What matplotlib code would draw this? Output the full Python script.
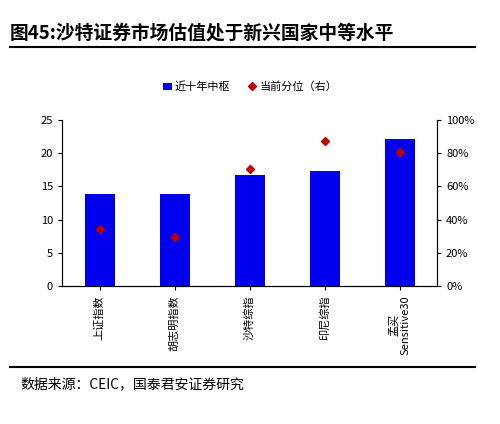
import matplotlib
matplotlib.use('Agg')
import matplotlib.pyplot as plt
import numpy as np

plt.rcParams['font.family'] = ['Noto Sans CJK SC', 'DejaVu Sans']

categories = ['上证指数', '胡志明指数', '沙特综指', '印尼综指', '孟买\nSensitive30']
center_10y = [13.9, 13.8, 16.8, 17.3, 22.2]
percentile = [0.345, 0.295, 0.705, 0.875, 0.81]

fig = plt.figure(figsize=(5, 4.24), dpi=100)
ax = fig.add_axes([0.124, 0.325, 0.75, 0.392])
x = np.arange(len(categories))
b = ax.bar(x, center_10y, width=0.4, color='#0000ee', label='近十年中枢')
ax.set_ylim(0, 25)
ax.set_xlim(-0.5, 4.5)
ax.set_yticks(range(0, 26, 5))
ax.set_xticks(x)
ax.set_xticklabels(categories, rotation=90, fontsize=8)
ax.tick_params(labelsize=8, length=3)
ax.spines['top'].set_visible(False)

ax2 = ax.twinx()
p, = ax2.plot(x, percentile, 'D', color='#c00000', markersize=4, label='当前分位（右）')
ax2.set_ylim(0, 1)
ax2.set_yticks(np.arange(0, 1.01, 0.2))
ax2.set_yticklabels([f'{int(v*100)}%' for v in np.arange(0, 1.01, 0.2)])
ax2.tick_params(labelsize=8, length=3)
ax2.spines['top'].set_visible(False)

fig.legend([b, p], ['近十年中枢', '当前分位（右）'], loc='center', bbox_to_anchor=(0.5, 0.795),
           ncol=2, frameon=False, fontsize=8, handlelength=0.8, handletextpad=0.3, columnspacing=1.5)

fig.text(0.02, 0.91, '图45:沙特证券市场估值处于新兴国家中等水平', fontsize=13.5, fontweight='bold')
fig.add_artist(plt.Line2D([0.02, 0.95], [0.89, 0.89], color='black', lw=1.5))
fig.add_artist(plt.Line2D([0.02, 0.95], [0.135, 0.135], color='black', lw=1.5))
fig.text(0.04, 0.085, '数据来源：CEIC，国泰君安证券研究', fontsize=10)

fig.savefig('out.png', dpi=100)
